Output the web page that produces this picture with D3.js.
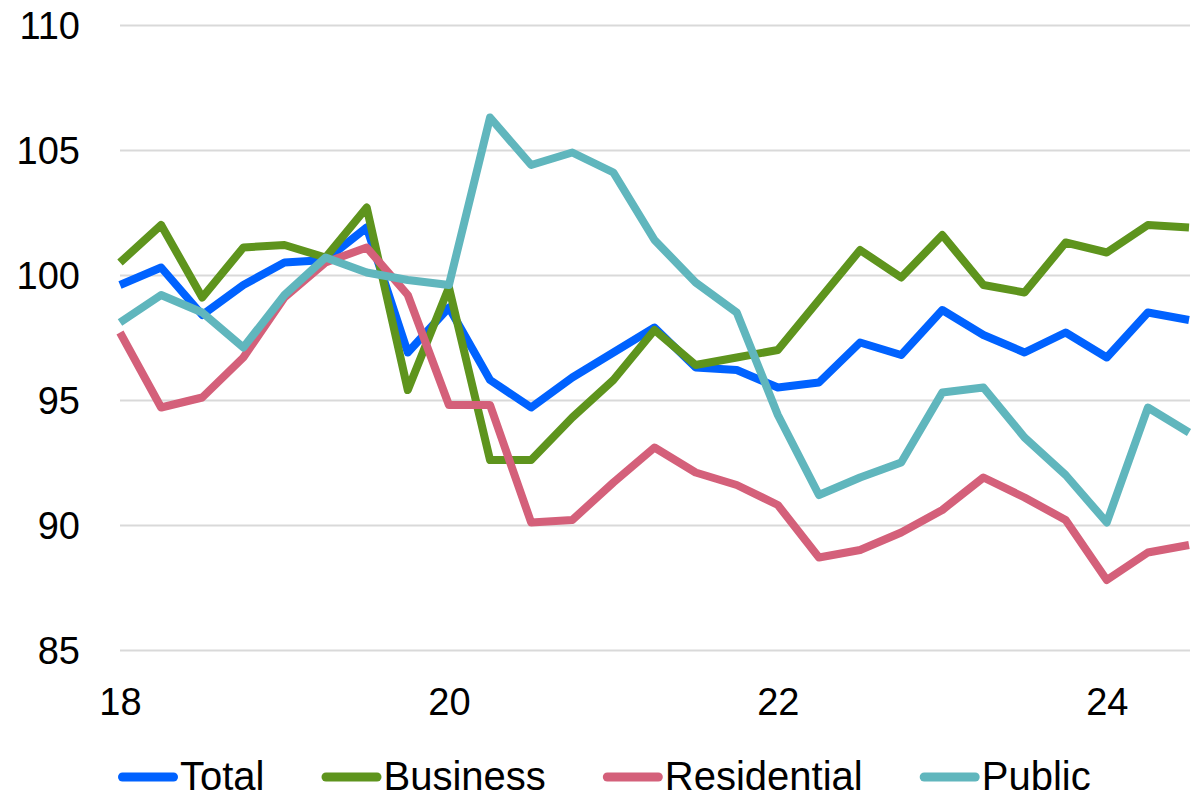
<!DOCTYPE html>
<html>
<head>
<meta charset="utf-8">
<script src="https://cdn.jsdelivr.net/npm/d3@7"></script>
<style>
  body { margin: 0; background: #fff; }
  svg { display: block; font-family: "Liberation Sans", Arial, sans-serif; }
</style>
</head>
<body>
<svg id="chart" width="1204" height="797"></svg>
<script>
// quarterly, 2018Q1 .. 2024Q3
let quarters = d3.range(27).map(i => 18 + i * 0.25);

let total =       [99.6, 100.3, 98.4, 99.6, 100.5, 100.6, 101.9, 96.9, 98.7, 95.8, 94.7, 95.9, 96.9, 97.9, 96.3, 96.2, 95.5, 95.7, 97.3, 96.8, 98.6, 97.6, 96.9, 97.7, 96.7, 98.5, 98.2];
let business =    [100.5, 102.0, 99.1, 101.1, 101.2, 100.7, 102.7, 95.4, 99.5, 92.6, 92.6, 94.3, 95.8, 97.8, 96.4, 96.7, 97.0, 99.0, 101.0, 99.9, 101.6, 99.6, 99.3, 101.3, 100.9, 102.0, 101.9];
let residential = [97.7, 94.7, 95.1, 96.7, 99.1, 100.5, 101.1, 99.2, 94.8, 94.8, 90.1, 90.2, 91.7, 93.1, 92.1, 91.6, 90.8, 88.7, 89.0, 89.7, 90.6, 91.9, 91.1, 90.2, 87.8, 88.9, 89.2];
let publicW =     [98.1, 99.2, 98.5, 97.1, 99.2, 100.7, 100.1, 99.8, 99.6, 106.3, 104.4, 104.9, 104.1, 101.4, 99.7, 98.5, 94.4, 91.2, 91.9, 92.5, 95.3, 95.5, 93.5, 92.0, 90.1, 94.7, 93.7];

let seriesNames = ['Total', 'Business', 'Residential', 'Public'];
let seriesColors = ['#0062ff', '#5e941d', '#d4607a', '#60b6bd'];
let yTicks = [85, 90, 95, 100, 105, 110];
let xTicks = [18, 20, 22, 24];

let series = [total, business, residential, publicW].map((vals, k) => ({
  name: seriesNames[k],
  color: seriesColors[k],
  values: vals.map((v, i) => ({t: quarters[i], v: v}))
}));

let svg = d3.select('#chart');
let x = d3.scaleLinear().domain([18, 24.5]).range([120, 1189]);
let y = d3.scaleLinear().domain([85, 110]).range([650, 25]);

// y axis + gridlines
let yAxis = d3.axisLeft(y).tickValues(yTicks).tickSize(-(1190 - 120)).tickPadding(40);
let yG = svg.append('g').attr('transform', 'translate(120,0)').call(yAxis);
yG.select('.domain').remove();
yG.selectAll('.tick line').attr('stroke', '#d9d9d9').attr('stroke-width', 2);
yG.selectAll('.tick text').attr('font-size', 38).attr('fill', '#000').attr('dy', '0.35em');

// x axis
let xAxis = d3.axisBottom(x).tickValues(xTicks).tickSize(0).tickPadding(0).tickFormat(d3.format('d'));
let xG = svg.append('g').attr('transform', 'translate(0,688)').call(xAxis);
xG.select('.domain').remove();
xG.selectAll('.tick text').attr('font-size', 38).attr('fill', '#000').attr('dy', '0.72em');

// lines
let line = d3.line().x(d => x(d.t)).y(d => y(d.v));
svg.append('g').selectAll('path')
  .data(series)
  .enter()
  .append('path')
  .attr('d', d => line(d.values))
  .attr('fill', 'none')
  .attr('stroke', d => d.color)
  .attr('stroke-width', 8)
  .attr('stroke-linejoin', 'round');

// legend
let legend = svg.append('g').attr('transform', 'translate(0,777)');
let lx = 118;
series.forEach(s => {
  let item = legend.append('g');
  item.append('line')
    .attr('x1', lx + 4.5).attr('x2', lx + 55.5)
    .attr('stroke', s.color).attr('stroke-width', 9).attr('stroke-linecap', 'round');
  let txt = item.append('text')
    .attr('x', lx + 62).attr('y', 13)
    .attr('font-size', 40).attr('fill', '#000')
    .text(s.name);
  lx += 62 + txt.node().getComputedTextLength() + 57;
});
</script>
</body>
</html>
